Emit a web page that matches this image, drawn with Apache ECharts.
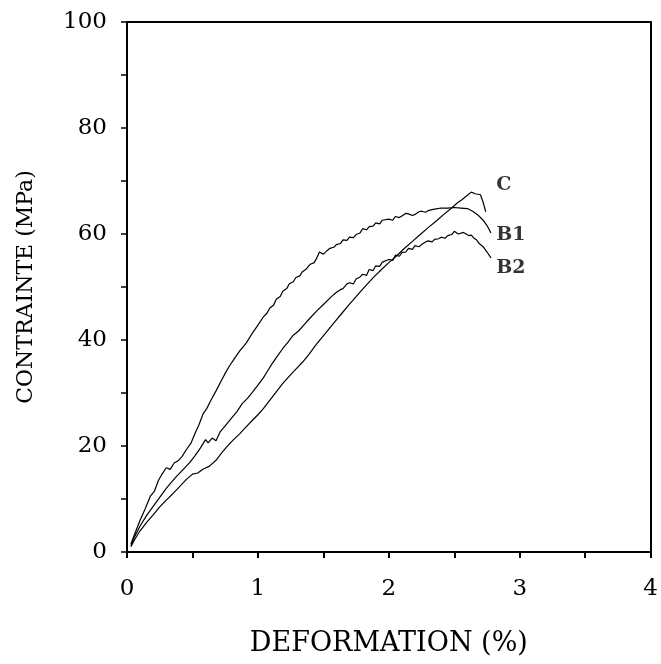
<!DOCTYPE html>
<html>
<head>
<meta charset="utf-8">
<script src="https://cdn.jsdelivr.net/npm/echarts@6/dist/echarts.min.js"></script>
<style>
html,body{margin:0;padding:0;background:#fff;}
#chart{width:661px;height:664px;}
</style>
</head>
<body>
<div id="chart"></div>
<script>
const xTickValues = [0, 1, 2, 3, 4];
const yTickValues = [0, 20, 40, 60, 80, 100];

const curveB1 = [[0.03,1.5],[0.06,3.5],[0.10,6.0],[0.14,8.2],[0.18,10.6],[0.21,11.5],[0.24,13.5],[0.27,14.8],[0.30,15.9],[0.33,15.6],[0.36,16.8],[0.39,17.2],[0.42,18.0],[0.45,19.2],[0.49,20.6],[0.52,22.4],[0.55,24.0],[0.58,26.0],[0.61,27.1],[0.64,28.6],[0.68,30.4],[0.72,32.3],[0.75,33.7],[0.78,35.0],[0.82,36.5],[0.86,37.9],[0.91,39.4],[0.95,41.0],[1.00,42.8],[1.04,44.3],[1.07,45.1],[1.09,46.0],[1.12,46.6],[1.14,47.7],[1.17,48.2],[1.19,49.2],[1.22,49.7],[1.24,50.6],[1.27,51.0],[1.29,51.8],[1.32,52.1],[1.34,52.9],[1.37,53.4],[1.40,54.3],[1.43,54.6],[1.45,55.5],[1.47,56.6],[1.50,56.2],[1.53,56.9],[1.55,57.3],[1.58,57.5],[1.60,58.0],[1.63,58.2],[1.65,58.9],[1.68,58.8],[1.70,59.4],[1.73,59.3],[1.75,59.9],[1.78,60.2],[1.80,61.0],[1.83,60.8],[1.85,61.4],[1.88,61.5],[1.90,62.1],[1.93,61.9],[1.95,62.6],[2.00,62.8],[2.03,62.6],[2.05,63.3],[2.08,63.1],[2.10,63.4],[2.13,63.9],[2.15,63.8],[2.18,63.5],[2.20,63.7],[2.23,64.2],[2.25,64.3],[2.28,64.1],[2.30,64.4],[2.33,64.6],[2.35,64.7],[2.40,64.9],[2.45,64.9],[2.50,65.0],[2.55,64.9],[2.60,64.8],[2.64,64.3],[2.68,63.6],[2.72,62.6],[2.75,61.6],[2.78,60.2]];

const curveB2 = [[0.03,1.2],[0.06,3.0],[0.10,4.9],[0.15,6.9],[0.20,8.6],[0.25,10.3],[0.30,12.0],[0.34,13.2],[0.38,14.3],[0.43,15.6],[0.48,16.9],[0.52,18.2],[0.56,19.6],[0.60,21.2],[0.62,20.6],[0.65,21.5],[0.68,21.0],[0.71,22.6],[0.75,23.8],[0.80,25.3],[0.84,26.5],[0.88,28.0],[0.92,29.0],[0.96,30.2],[1.00,31.5],[1.04,32.8],[1.07,34.0],[1.11,35.6],[1.15,37.0],[1.19,38.4],[1.23,39.6],[1.27,40.9],[1.31,41.7],[1.35,42.8],[1.40,44.2],[1.45,45.5],[1.50,46.7],[1.55,47.9],[1.58,48.6],[1.60,49.0],[1.63,49.5],[1.65,49.7],[1.68,50.6],[1.70,50.8],[1.73,50.6],[1.75,51.5],[1.78,51.9],[1.80,52.4],[1.83,52.2],[1.85,53.3],[1.88,53.1],[1.90,54.0],[1.93,53.9],[1.95,54.7],[2.00,55.2],[2.03,55.0],[2.05,56.0],[2.08,55.8],[2.10,56.5],[2.13,56.6],[2.15,57.3],[2.18,57.1],[2.20,57.8],[2.23,57.6],[2.25,58.0],[2.28,58.5],[2.30,58.7],[2.33,58.5],[2.35,59.0],[2.38,59.1],[2.40,59.4],[2.43,59.2],[2.45,59.7],[2.48,59.9],[2.50,60.5],[2.53,60.0],[2.57,60.3],[2.61,59.7],[2.63,59.8],[2.65,59.2],[2.67,58.9],[2.69,58.2],[2.72,57.6],[2.75,56.6],[2.78,55.5]];

const curveC = [[0.03,1.0],[0.06,2.4],[0.10,4.0],[0.15,5.6],[0.20,7.0],[0.25,8.5],[0.30,9.8],[0.35,11.0],[0.40,12.3],[0.45,13.6],[0.50,14.7],[0.54,14.9],[0.58,15.6],[0.63,16.2],[0.68,17.3],[0.72,18.6],[0.76,19.8],[0.81,21.1],[0.86,22.3],[0.91,23.6],[0.96,24.9],[1.00,25.9],[1.04,27.0],[1.09,28.6],[1.14,30.2],[1.19,31.8],[1.24,33.2],[1.29,34.5],[1.34,35.8],[1.39,37.3],[1.44,39.0],[1.49,40.5],[1.54,42.0],[1.59,43.5],[1.64,45.0],[1.69,46.5],[1.74,47.9],[1.79,49.3],[1.84,50.7],[1.89,52.0],[1.94,53.2],[2.00,54.6],[2.06,55.9],[2.12,57.3],[2.18,58.6],[2.24,59.9],[2.30,61.2],[2.36,62.4],[2.42,63.7],[2.48,64.9],[2.52,65.8],[2.56,66.5],[2.60,67.3],[2.63,67.9],[2.66,67.6],[2.70,67.4],[2.72,66.0],[2.74,64.2]];

const curveNames = ['C', 'B1', 'B2'];
const labelX = [2.82, 2.82, 2.82];
const labelY = [69.3, 59.8, 53.6];

const serif = '"DejaVu Serif", "Liberation Serif", serif';
const chart = echarts.init(document.getElementById('chart'), null, {renderer: 'canvas'});

function lineSeries(name, data) {
  return {
    name: name, type: 'line', data: data, showSymbol: false, smooth: false,
    lineStyle: {color: '#000', width: 1.2}, silent: true, animation: false
  };
}

const option = {
  backgroundColor: '#fff',
  animation: false,
  grid: {left: 127, right: 9, top: 22, bottom: 112, containLabel: false},
  xAxis: [{
    type: 'value', min: 0, max: 4, interval: 0.5,
    name: 'DEFORMATION (%)', nameLocation: 'middle', nameGap: 78,
    nameTextStyle: {fontFamily: serif, fontSize: 27, color: '#000'},
    axisLine: {show: true, onZero: false, lineStyle: {color: '#000', width: 2}},
    axisTick: {show: true, inside: false, length: 6, lineStyle: {color: '#000', width: 2}},
    axisLabel: {
      fontFamily: serif, fontSize: 23, color: '#000', margin: 26,
      formatter: function (v) { return xTickValues.indexOf(v) >= 0 ? String(v) : ''; }
    },
    splitLine: {show: false}
  }, {
    type: 'value', min: 0, max: 4, position: 'top',
    axisLine: {show: true, onZero: false, lineStyle: {color: '#000', width: 2}},
    axisTick: {show: false}, axisLabel: {show: false}, splitLine: {show: false}
  }],
  yAxis: [{
    type: 'value', min: 0, max: 100, interval: 10,
    name: 'CONTRAINTE (MPa)', nameLocation: 'middle', nameGap: 90, nameRotate: 90,
    nameTextStyle: {fontFamily: serif, fontSize: 22, color: '#000'},
    axisLine: {show: true, onZero: false, lineStyle: {color: '#000', width: 2}},
    axisTick: {show: true, inside: false, length: 6, lineStyle: {color: '#000', width: 1.5}},
    axisLabel: {
      fontFamily: serif, fontSize: 23, color: '#000', margin: 20,
      formatter: function (v) { return yTickValues.indexOf(v) >= 0 ? String(v) : ''; }
    },
    splitLine: {show: false}
  }, {
    type: 'value', min: 0, max: 100, position: 'right',
    axisLine: {show: true, onZero: false, lineStyle: {color: '#000', width: 2}},
    axisTick: {show: false}, axisLabel: {show: false}, splitLine: {show: false}
  }],
  series: [
    lineSeries('C', curveC),
    lineSeries('B1', curveB1),
    lineSeries('B2', curveB2),
    {
      type: 'scatter', silent: true, symbolSize: 0,
      data: curveNames.map(function (n, i) { return {name: n, value: [labelX[i], labelY[i]]}; }),
      label: {
        show: true, position: 'right', distance: 0,
        formatter: function (p) { return p.name; },
        fontFamily: serif, fontWeight: 'bold', fontSize: 19, color: '#000'
      }
    }
  ]
};
chart.setOption(option);
</script>
</body>
</html>
